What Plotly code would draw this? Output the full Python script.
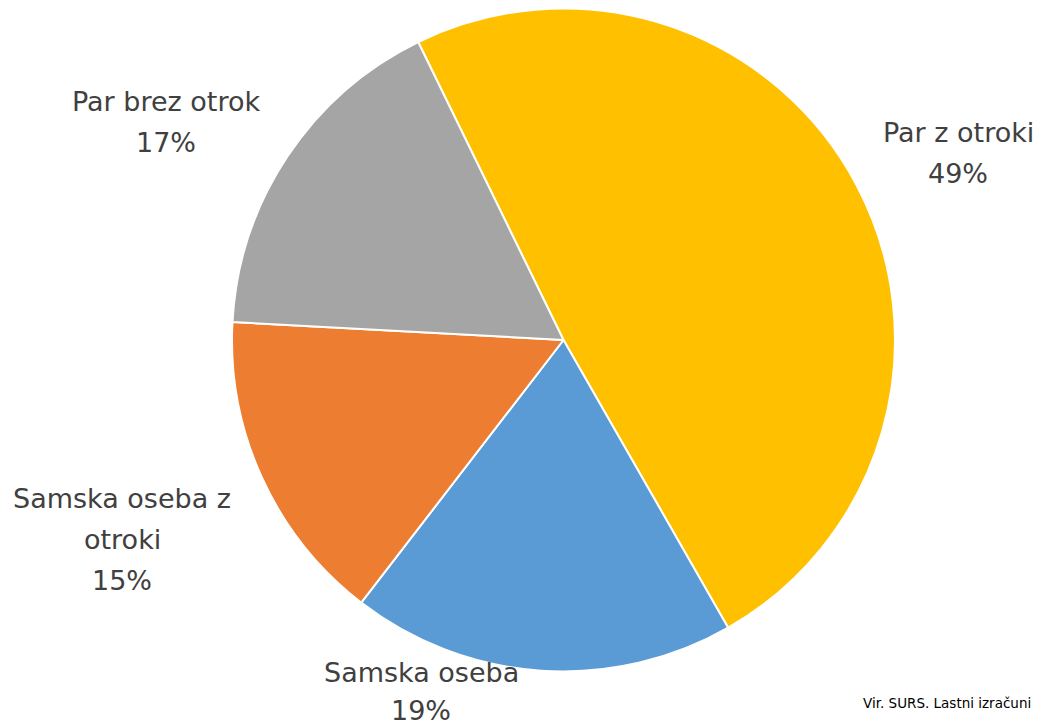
import plotly.graph_objects as go

categories = ["Par z otroki", "Samska oseba", "Samska oseba z otroki", "Par brez otrok"]
values = [48.9, 18.7, 15.4, 16.9]
colors = ["#FFC000", "#5B9BD5", "#ED7D31", "#A5A5A5"]
# label lines as displayed (wrapped)
label_lines = [["Par z otroki"], ["Samska oseba"], ["Samska oseba z", "otroki"], ["Par brez otrok"]]
source_text = "Vir. SURS. Lastni izračuni"

W, H = 1040, 727
total = sum(values)
pcts = [f"{round(v / total * 100)}%" for v in values]

fig = go.Figure(go.Pie(
    labels=categories,
    values=values,
    sort=False,
    direction="clockwise",
    rotation=-26,
    marker=dict(colors=colors, line=dict(color="white", width=2)),
    textinfo="none",
    hoverinfo="label+percent",
    showlegend=False,
    domain=dict(x=[232 / W, 895 / W], y=[1 - 672 / H, 1 - 8 / H]),
))

# label anchor positions (pixel centres of first line) and line spacing
label_pos = [(958, 133), (421, 672), (122, 498), (166, 101)]
line_gaps = [41, 38, 41, 41]
font = dict(family="'DejaVu Sans', sans-serif", size=27, color="#404040")
for lines, pct, (cx, cy), gap in zip(label_lines, pcts, label_pos, line_gaps):
    for i, t in enumerate(lines + [pct]):
        y = cy + i * gap
        fig.add_annotation(x=cx / W, y=1 - y / H, xref="paper", yref="paper",
                           text=t, showarrow=False, font=font,
                           xanchor="center", yanchor="middle")

fig.add_annotation(x=1033 / W, y=1 - 703 / H, xref="paper", yref="paper",
                   text=source_text, showarrow=False,
                   font=dict(family="'DejaVu Sans', sans-serif", size=13.5, color="#000000"),
                   xanchor="right", yanchor="middle")

fig.update_layout(width=W, height=H, margin=dict(l=0, r=0, t=0, b=0),
                  paper_bgcolor="white", plot_bgcolor="white")
fig.write_html("out.html", config={"displayModeBar": False},
               post_script="document.body.style.margin='0';")
